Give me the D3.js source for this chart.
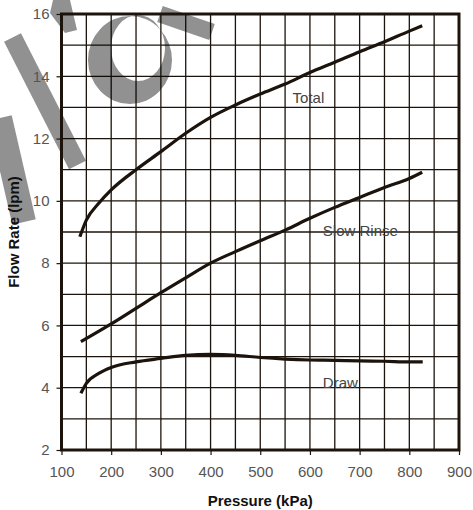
<!DOCTYPE html>
<html><head><meta charset="utf-8">
<script src="https://cdn.jsdelivr.net/npm/d3@7"></script>
<style>body{margin:0;background:#fff}svg{display:block}</style>
</head><body>
<script>
// ---- data ----
const totalPressure = [137,150,175,200,250,300,350,400,450,500,550,600,650,700,750,800,826];
const totalFlow     = [8.85,9.38,9.92,10.35,11.0,11.58,12.17,12.68,13.08,13.43,13.75,14.12,14.45,14.79,15.11,15.45,15.62];
const rinsePressure = [139,200,250,300,350,400,450,500,550,600,650,700,750,800,826];
const rinseFlow     = [5.48,6.05,6.55,7.05,7.53,8.0,8.37,8.72,9.06,9.44,9.79,10.11,10.43,10.72,10.92];
const drawPressure  = [139,150,175,200,250,300,350,400,450,500,550,600,650,700,750,800,827];
const drawFlow      = [3.82,4.14,4.46,4.65,4.83,4.94,5.04,5.07,5.04,4.97,4.92,4.89,4.88,4.86,4.85,4.83,4.83];
const seriesNames   = ["Total","Slow Rinse","Draw"];
const labelPressure = [565,626,626];
const labelFlow     = [13.15,8.88,3.98];
const xTicks = [100,200,300,400,500,600,700,800,900];
const yTicks = [2,4,6,8,10,12,14,16];
const xTitle = "Pressure (kPa)";
const yTitle = "Flow Rate (lpm)";

const W = 473, H = 510;
const svg = d3.select("body").append("svg").attr("width", W).attr("height", H);
const x = d3.scaleLinear().domain([100,900]).range([61.5,459]);
const y = d3.scaleLinear().domain([2,16]).range([450,14]);
const ink = "#1c140c";

// grid
svg.append("g").selectAll("line").data(d3.range(150,900,50)).join("line")
  .attr("x1", d=>x(d)).attr("x2", d=>x(d)).attr("y1", y(2)).attr("y2", y(16))
  .attr("stroke", ink).attr("stroke-width", 1.3);
svg.append("g").selectAll("line").data(d3.range(3,16,1)).join("line")
  .attr("y1", d=>y(d)).attr("y2", d=>y(d)).attr("x1", x(100)).attr("x2", x(900))
  .attr("stroke", ink).attr("stroke-width", 1.3);

// watermark (decorative, semi-transparent)
const wm = svg.append("g").attr("fill","#000").attr("fill-opacity",0.43).attr("stroke","none");
const band = (x1,y1,x2,y2,w) => {
  const dx=x2-x1, dy=y2-y1, L=Math.hypot(dx,dy), nx=-dy/L*w/2, ny=dx/L*w/2;
  return `M${x1+nx},${y1+ny}L${x2+nx},${y2+ny}L${x2-nx},${y2-ny}L${x1-nx},${y1-ny}Z`;
};
wm.append("path").attr("d", band(12.5,37.5,77.5,165,19));
wm.append("path").attr("d", band(0,118,24,222,24));
wm.append("path").attr("d", "M50,13L53,0L70,0L77,30L65,33Z");
wm.append("path").attr("fill-rule","evenodd")
  .attr("d", "M88,60a42,44 0 1,0 84,0a42,44 0 1,0 -84,0Z M111,48a27,33 0 1,0 54,0a27,33 0 1,0 -54,0Z");
wm.append("path").attr("d", band(160,14,212,32,17));

// frame
svg.append("rect").attr("x", x(100)).attr("y", y(16)).attr("width", x(900)-x(100)).attr("height", y(2)-y(16))
  .attr("fill","none").attr("stroke", ink).attr("stroke-width", 3);

// axes
const xAxis = svg.append("g").attr("transform", `translate(0,${y(2)})`)
  .call(d3.axisBottom(x).tickValues(xTicks).tickSize(5).tickPadding(11).tickFormat(d3.format("d")));
const yAxis = svg.append("g").attr("transform", `translate(${x(100)},0)`)
  .call(d3.axisLeft(y).tickValues(yTicks).tickSize(5).tickPadding(7).tickFormat(d3.format("d")));
[xAxis,yAxis].forEach(g=>{
  g.select(".domain").remove();
  g.selectAll(".tick line").attr("stroke", ink).attr("stroke-width",1.2);
  g.selectAll(".tick text").attr("fill","#555").attr("font-family","Liberation Sans, Arial, sans-serif").attr("font-size",15);
});

// curves
const line = d3.line().x(d=>x(d[0])).y(d=>y(d[1])).curve(d3.curveMonotoneX);
const series = [
  d3.zip(totalPressure,totalFlow),
  d3.zip(rinsePressure,rinseFlow),
  d3.zip(drawPressure,drawFlow)
];
svg.append("g").selectAll("path").data(series).join("path")
  .attr("d", line).attr("fill","none").attr("stroke", ink).attr("stroke-width",3.2)
  .attr("stroke-linecap","butt");

// series labels
svg.append("g").selectAll("text").data(seriesNames).join("text")
  .attr("x",(d,i)=>x(labelPressure[i])).attr("y",(d,i)=>y(labelFlow[i]))
  .attr("font-family","Liberation Sans, Arial, sans-serif").attr("font-size",15).attr("fill","#444")
  .text(d=>d);

// titles
svg.append("text").attr("x",(x(100)+x(900))/2).attr("y",506).attr("text-anchor","middle")
  .attr("font-family","Liberation Sans, Arial, sans-serif").attr("font-size",15).attr("font-weight","bold").attr("fill","#111")
  .text(xTitle);
svg.append("text").attr("transform",`translate(19,${(y(2)+y(16))/2}) rotate(-90)`).attr("text-anchor","middle")
  .attr("font-family","Liberation Sans, Arial, sans-serif").attr("font-size",15).attr("font-weight","bold").attr("fill","#111")
  .text(yTitle);
</script>
</body></html>
